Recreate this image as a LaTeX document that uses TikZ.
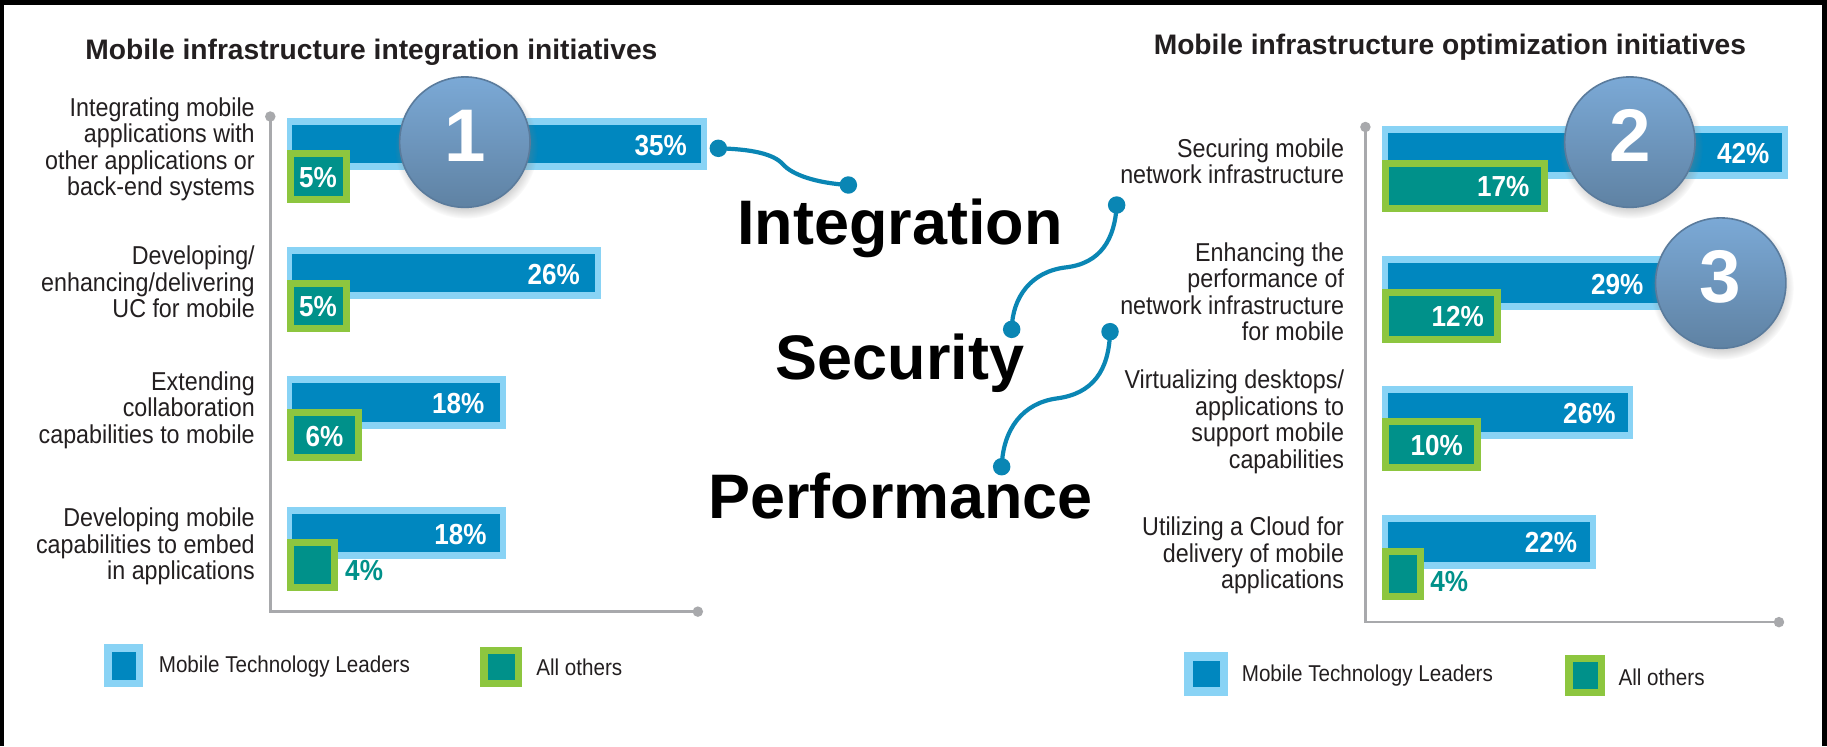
\documentclass[tikz,border=0pt]{standalone}
\usepackage{fontspec}
\setmainfont{Liberation Sans}
\newfontfamily\lblfont[FakeStretch=0.9]{Liberation Sans}
\usetikzlibrary{shadows}
\definecolor{mtldark}{HTML}{0087BF}
\definecolor{mtllight}{HTML}{89D3F5}
\definecolor{othteal}{HTML}{00918A}
\definecolor{othgreen}{HTML}{8DC63F}
\definecolor{axisgrey}{HTML}{A8A9AC}
\definecolor{linkblue}{HTML}{0A86B4}
\definecolor{labelc}{HTML}{231F20}
\definecolor{badgetop}{HTML}{7BA9D6}
\definecolor{badgebot}{HTML}{5F82A3}
\definecolor{badgeedge}{HTML}{5A7B9C}
\newcommand\mtlbar[4]{\fill[mtllight] (#1,#2) rectangle (#3,#4); \fill[mtldark] (#1+5,#2+6) rectangle (#3-5,#4-6);}
\newcommand\othbar[4]{\fill[othgreen] (#1,#2) rectangle (#3,#4); \fill[othteal] (#1+6,#2+6) rectangle (#3-6,#4-6);}
\begin{document}
\begin{tikzpicture}[x=0.5825pt, y=-0.5825pt,
  lbl/.style={anchor=east, align=right, inner sep=0pt, text=labelc, font=\lblfont\fontsize{12.93pt}{13.22pt}\selectfont},
  pct/.style={anchor=east, inner sep=0pt, text=white, font=\lblfont\bfseries\fontsize{14.5pt}{16pt}\selectfont},
  pctc/.style={pct, anchor=center},
  pcto/.style={pct, anchor=west, text=othteal},
  legtxt/.style={anchor=west, inner sep=0pt, text=labelc, font=\lblfont\fontsize{11.46pt}{13pt}\selectfont},
  charttitle/.style={anchor=base west, inner sep=0pt, text=labelc, font=\bfseries\fontsize{14.1pt}{16pt}\selectfont},
  bigword/.style={anchor=base, inner sep=0pt, text=black, font=\bfseries\fontsize{31.46pt}{36pt}\selectfont},
  badge/.style={circle, minimum size=65.2pt, inner sep=0pt, top color=badgetop, bottom color=badgebot, draw=badgeedge, line width=0.8pt, circular drop shadow={shadow xshift=0.6pt, shadow yshift=-2.2pt, opacity=0.35}},
  badgenum/.style={inner sep=0pt, text=white, font=\bfseries\fontsize{37.3pt}{40pt}\selectfont},
  axisline/.style={draw=axisgrey, line width=1.3pt},
  linkline/.style={draw=linkblue, line width=2.1pt}]
\useasboundingbox (0,0) rectangle (1568.24,640.34);
\fill[white] (0,0) rectangle (1568.24,640.34);
% frame
\fill[black] (0,0) rectangle (1568.24,4.3);
\fill[black] (0,0) rectangle (3.4,640.34);
\fill[black] (1564,0) rectangle (1568.24,640.34);

% ---------- left chart ----------
\node[charttitle] (tl) at (73,51) {Mobile infrastructure integration initiatives};
\coordinate (la0) at (232,525);
\coordinate (la1) at (232,100);
\coordinate (la2) at (599,525);
\draw[axisline] (la1) -- (la0) -- (la2);
\fill[axisgrey] (la1) circle (4.5);
\fill[axisgrey] (la2) circle (4.5);

\mtlbar{246}{101}{607}{146}
\othbar{246}{129}{300}{174}
\mtlbar{246}{212}{516}{257}
\othbar{246}{240}{300}{285}
\mtlbar{246}{323}{434}{368}
\othbar{246}{351}{311}{396}
\mtlbar{246}{435}{434}{480}
\othbar{246}{463}{290}{507}

\node[pct] (lp1) at (590,124.5) {35\%};
\node[pct] (lp2) at (498,235.5) {26\%};
\node[pct] (lp3) at (416,346.5) {18\%};
\node[pct] (lp4) at (418,458.5) {18\%};
\node[pctc] (lo1) at (273,152.5) {5\%};
\node[pctc] (lo2) at (273,263.5) {5\%};
\node[pctc] (lo3) at (278.5,374.5) {6\%};
\node[pcto] (lo4) at (296,490) {4\%};

\node[lbl] (ll1) at (219,128) {Integrating mobile\\applications with\\other applications or\\back-end systems};
\node[lbl] (ll2) at (219,242) {Developing/\\enhancing/delivering\\UC for mobile};
\node[lbl] (ll3) at (219,352) {Extending\\collaboration\\capabilities to mobile};
\node[lbl] (ll4) at (219,469) {Developing mobile\\capabilities to embed\\in applications};

\fill[mtllight] (89,553) rectangle (123,590);
\fill[mtldark] (96,560) rectangle (117,584);
\node[legtxt] (lg1) at (136,572) {Mobile Technology Leaders};
\fill[othgreen] (412,555) rectangle (448,590);
\fill[othteal] (419,561) rectangle (442,584);
\node[legtxt] (lg2) at (460,573) {All others};

% ---------- right chart ----------
\node[charttitle] (tr) at (990,47) {Mobile infrastructure optimization initiatives};
\coordinate (ra0) at (1172,534);
\coordinate (ra1) at (1172,109);
\coordinate (ra2) at (1527,534);
\draw[axisline] (ra1) -- (ra0) -- (ra2);
\fill[axisgrey] (ra1) circle (4.5);
\fill[axisgrey] (ra2) circle (4.5);

\mtlbar{1186}{108}{1535}{154}
\othbar{1186}{137}{1329}{182}
\mtlbar{1186}{220}{1428}{266}
\othbar{1186}{248}{1288}{294}
\mtlbar{1186}{331}{1402}{377}
\othbar{1186}{359}{1271}{404}
\mtlbar{1186}{442}{1370}{488}
\othbar{1186}{470}{1222}{515}

\node[pct] (rp1) at (1519,132) {42\%};
\node[pct] (rp2) at (1411,244) {29\%};
\node[pct] (rp3) at (1387,355) {26\%};
\node[pct] (rp4) at (1354,466) {22\%};
\node[pct] (ro1) at (1313,160.5) {17\%};
\node[pct] (ro2) at (1274,272) {12\%};
\node[pct] (ro3) at (1256,382.5) {10\%};
\node[pcto] (ro4) at (1227.5,499) {4\%};

\node[lbl] (rl1) at (1154,138.5) {Securing mobile\\network infrastructure};
\node[lbl] (rl2) at (1154,250.5) {Enhancing the\\performance of\\network infrastructure\\for mobile};
\node[lbl] (rl3) at (1154,362) {Virtualizing desktops/\\applications to\\support mobile\\capabilities};
\node[lbl] (rl4) at (1154,477) {Utilizing a Cloud for\\delivery of mobile\\applications};

\fill[mtllight] (1016.6,560) rectangle (1053.7,597);
\fill[mtldark] (1023.8,567) rectangle (1046.9,590);
\node[legtxt] (rg1) at (1065.6,580) {Mobile Technology Leaders};
\fill[othgreen] (1343.3,562) rectangle (1377.9,597);
\fill[othteal] (1350,568.5) rectangle (1371.5,591);
\node[legtxt] (rg2) at (1389,581) {All others};

% ---------- badges ----------
\node[badge] (b1) at (399,122) {};
\node[badgenum] (n1) at (399,116.5) {1};
\node[badge] (b2) at (1399,122) {};
\node[badgenum] (n2) at (1399,116.5) {2};
\node[badge] (b3) at (1477,243) {};
\node[badgenum] (n3) at (1477,237.5) {3};

% ---------- middle words and connectors ----------
\node[bigword] (w1) at (772.5,210) {Integration};
\node[bigword] (w2) at (772.5,326) {Security};
\node[bigword] (w3) at (773,445) {Performance};

\coordinate (c1s) at (616.6,127.3);
\coordinate (c1e) at (728.2,158.8);
\draw[linkline] (c1s) .. controls (645,128) and (664,132) .. (672,141) .. controls (680,150) and (700,157) .. (c1e);
\fill[linkblue] (c1s) circle (7.5);
\fill[linkblue] (c1e) circle (7.5);

\coordinate (c2s) at (958.5,176);
\coordinate (c2e) at (868.4,282.7);
\draw[linkline] (c2s) .. controls (957,205) and (945,226) .. (915,229.5) .. controls (885,233) and (869,255) .. (c2e);
\fill[linkblue] (c2s) circle (7.5);
\fill[linkblue] (c2e) circle (7.5);

\coordinate (c3s) at (952.8,284.7);
\coordinate (c3e) at (859.8,400.6);
\draw[linkline] (c3s) .. controls (952,318) and (938,338) .. (907,342) .. controls (878,346) and (861,368) .. (c3e);
\fill[linkblue] (c3s) circle (7.5);
\fill[linkblue] (c3e) circle (7.5);
\end{tikzpicture}
\end{document}
